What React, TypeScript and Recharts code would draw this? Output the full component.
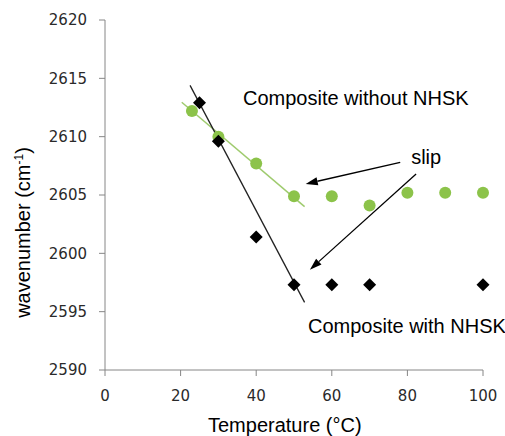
import React from 'react'
import {
  ScatterChart,
  Scatter,
  XAxis,
  YAxis,
  ReferenceLine,
  ReferenceDot,
} from 'recharts'

// Composite without NHSK (green)
const withoutX = [23, 30, 40, 50, 60, 70, 80, 90, 100]
const withoutY = [2612.2, 2610.0, 2607.7, 2604.9, 2604.9, 2604.1, 2605.2, 2605.2, 2605.2]

// Composite with NHSK (black)
const withX = [25, 30, 40, 50, 60, 70, 100]
const withY = [2612.9, 2609.6, 2601.4, 2597.3, 2597.3, 2597.3, 2597.3]

const xTicks = [0, 20, 40, 60, 80, 100]
const yTicks = [2590, 2595, 2600, 2605, 2610, 2615, 2620]

const GREEN = '#8cc34a'
const TICK_FONT = { fontFamily: 'DejaVu Sans', fontSize: 15, fill: '#2a2a2a' }
const LABEL_FONT = 'Liberation Sans, Arial, sans-serif'

const withoutData = withoutX.map((x, i) => ({ x, y: withoutY[i] }))
const withData = withX.map((x, i) => ({ x, y: withY[i] }))

const circle = (p: any) => <circle cx={p.cx} cy={p.cy} r={6} fill={GREEN} />
const diamond = (p: any) => (
  <polygon
    points={`${p.cx},${p.cy - 6.5} ${p.cx + 6.5},${p.cy} ${p.cx},${p.cy + 6.5} ${p.cx - 6.5},${p.cy}`}
    fill="#000"
  />
)

// line with filled arrowhead at the second point
const arrow = (p: any) => {
  const { x1, y1, x2, y2 } = p
  const a = Math.atan2(y2 - y1, x2 - x1)
  const len = 12
  const w = 4
  const bx = x2 - len * Math.cos(a)
  const by = y2 - len * Math.sin(a)
  const nx = -Math.sin(a) * w
  const ny = Math.cos(a) * w
  return (
    <g>
      <line x1={x1} y1={y1} x2={bx} y2={by} stroke="#000" strokeWidth={1.3} />
      <polygon points={`${x2},${y2} ${bx + nx},${by + ny} ${bx - nx},${by - ny}`} fill="#000" />
    </g>
  )
}

const note = (txt: string) => (p: any) => (
  <text x={p.cx} y={p.cy} fontFamily={LABEL_FONT} fontSize={20} fill="#000">
    {txt}
  </text>
)

export default function App() {
  return (
    <div style={{ position: 'absolute', left: 0, top: 0, background: '#fff' }}>
      <ScatterChart width={505} height={436} margin={{ top: 20, right: 22, bottom: 26, left: 0 }}>
        <XAxis
          type="number"
          dataKey="x"
          domain={[0, 100]}
          ticks={xTicks}
          height={40}
          tickSize={6}
          tickMargin={14}
          stroke="#868686"
          tick={TICK_FONT}
          label={{
            content: () => (
              <text x={208} y={432} fontFamily={LABEL_FONT} fontSize={20} fill="#000">
                Temperature (°C)
              </text>
            ),
          }}
        />
        <YAxis
          type="number"
          dataKey="y"
          domain={[2590, 2620]}
          ticks={yTicks}
          width={105}
          tickSize={6}
          tickMargin={12}
          stroke="#868686"
          tick={TICK_FONT}
          label={{
            content: () => (
              <text
                x={29.5}
                y={232.5}
                transform="rotate(-90, 29.5, 232.5)"
                textAnchor="middle"
                fontFamily={LABEL_FONT}
                fontSize={20}
                fill="#000"
              >
                wavenumber (cm
                <tspan dy={-7} fontSize={12}>-1</tspan>
                <tspan dy={7}>)</tspan>
              </text>
            ),
          }}
        />
        <ReferenceLine
          segment={[{ x: 20.3, y: 2612.95 }, { x: 52.8, y: 2604.0 }]}
          stroke="#9fcb6e"
          strokeWidth={1.5}
          ifOverflow="visible"
        />
        <ReferenceLine
          segment={[{ x: 22.5, y: 2614.4 }, { x: 52.8, y: 2595.8 }]}
          stroke="#222"
          strokeWidth={1.3}
          ifOverflow="visible"
        />
        <ReferenceLine
          segment={[{ x: 78.1, y: 2607.8 }, { x: 53.1, y: 2605.95 }]}
          shape={arrow}
          ifOverflow="visible"
        />
        <ReferenceLine
          segment={[{ x: 82.3, y: 2606.8 }, { x: 54.2, y: 2598.6 }]}
          shape={arrow}
          ifOverflow="visible"
        />
        <Scatter data={withoutData} shape={circle} isAnimationActive={false} />
        <Scatter data={withData} shape={diamond} isAnimationActive={false} />
        <ReferenceDot x={36.5} y={2612.72} r={1} shape={note('Composite without NHSK')} ifOverflow="visible" />
        <ReferenceDot x={81} y={2607.63} r={1} shape={note('slip')} ifOverflow="visible" />
        <ReferenceDot x={53.7} y={2593.2} r={1} shape={note('Composite with NHSK')} ifOverflow="visible" />
      </ScatterChart>
    </div>
  )
}
